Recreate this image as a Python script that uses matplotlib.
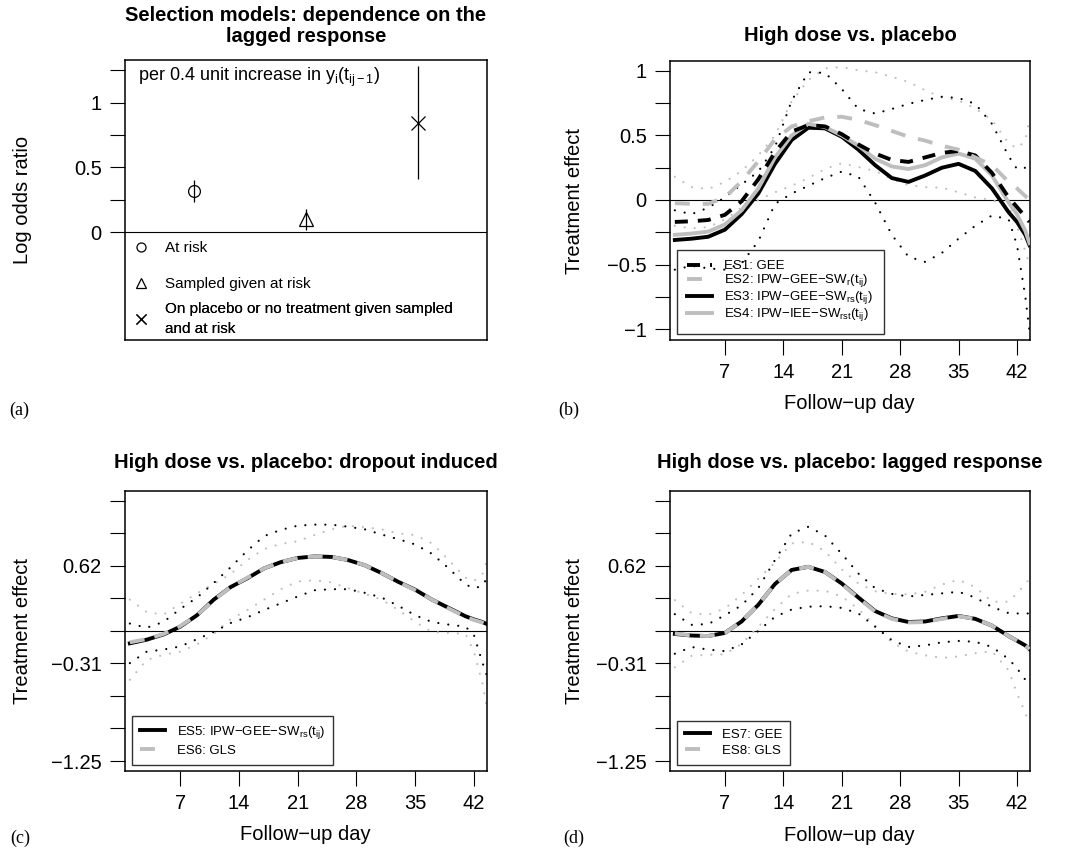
import matplotlib
matplotlib.use("Agg")
import matplotlib.pyplot as plt
from matplotlib.lines import Line2D

plt.rcParams['font.family'] = ['Liberation Sans', 'DejaVu Sans']
plt.rcParams['mathtext.fontset'] = 'custom'
plt.rcParams['mathtext.rm'] = 'Liberation Sans'
plt.rcParams['mathtext.it'] = 'Liberation Sans:italic'
plt.rcParams['mathtext.bf'] = 'Liberation Sans:bold'

# ---- panel (a): selection models
groups = [1, 2, 3]
log_or = [0.317, 0.10, 0.84]
log_or_lo = [0.23, 0.015, 0.41]
log_or_hi = [0.40, 0.18, 1.28]
group_labels = ["At risk", "Sampled given at risk",
                "On placebo or no treatment given sampled\nand at risk"]
group_markers = ["o", "^", "x"]

# ---- follow-up days shared by panels (b)-(d)
days = [1, 3, 5, 7, 9, 11, 13, 15, 17, 19, 21, 23, 25, 27, 29, 31, 33, 35, 37, 39, 41, 42, 43, 43.5]
day_ticks = [7, 14, 21, 28, 35, 42]

# panel (b): high dose vs placebo
es1 = [-0.17, -0.165, -0.155, -0.115, -0.01, 0.16, 0.37, 0.53, 0.58, 0.57, 0.51, 0.43, 0.36, 0.31,
       0.295, 0.33, 0.365, 0.38, 0.345, 0.21, 0.02, -0.055, -0.13, -0.17]
es1_hi = [-0.08, -0.11, -0.06, 0.02, 0.12, 0.22, 0.41, 0.77, 0.99, 0.985, 0.86, 0.705, 0.67, 0.705,
          0.745, 0.775, 0.80, 0.79, 0.745, 0.59, 0.34, 0.24, 0.25, 0.31]
es1_lo = [-0.54, -0.51, -0.53, -0.54, -0.49, -0.32, -0.03, 0.05, 0.11, 0.17, 0.22, 0.18, -0.02, -0.27,
          -0.44, -0.48, -0.41, -0.30, -0.20, -0.12, -0.15, -0.35, -0.75, -1.02]
es2 = [-0.025, -0.03, -0.03, 0.02, 0.145, 0.30, 0.47, 0.57, 0.61, 0.64, 0.645, 0.62, 0.58, 0.535,
       0.49, 0.46, 0.42, 0.39, 0.33, 0.27, 0.14, 0.09, 0.03, 0.0]
es2_hi = [0.18, 0.10, 0.085, 0.14, 0.225, 0.345, 0.50, 0.765, 0.93, 1.02, 1.03, 1.005, 0.99, 0.955,
          0.915, 0.85, 0.795, 0.77, 0.71, 0.62, 0.44, 0.40, 0.46, 0.63]
es2_lo = [-0.2, -0.22, -0.21, -0.15, -0.06, 0.0, 0.06, 0.11, 0.17, 0.24, 0.285, 0.255, 0.225, 0.16,
          0.115, 0.10, 0.095, 0.06, 0.02, 0.0, -0.05, -0.2, -0.4, -0.5]
es3 = [-0.31, -0.30, -0.285, -0.23, -0.11, 0.05, 0.28, 0.465, 0.56, 0.555, 0.49, 0.39, 0.27, 0.17,
       0.14, 0.19, 0.25, 0.28, 0.225, 0.09, -0.095, -0.17, -0.27, -0.35]
es4 = [-0.27, -0.26, -0.245, -0.19, -0.08, 0.09, 0.33, 0.50, 0.59, 0.565, 0.50, 0.42, 0.32, 0.26,
       0.24, 0.27, 0.33, 0.36, 0.32, 0.19, -0.02, -0.11, -0.24, -0.335]

# panel (c): dropout induced
es5 = [-0.12, -0.085, -0.035, 0.04, 0.15, 0.30, 0.42, 0.505, 0.60, 0.66, 0.70, 0.715, 0.71, 0.68,
       0.63, 0.555, 0.47, 0.395, 0.30, 0.22, 0.14, 0.11, 0.085, 0.067]
es5_hi = [0.07, 0.03, 0.085, 0.21, 0.32, 0.46, 0.61, 0.77, 0.91, 0.97, 1.01, 1.02, 1.02, 1.0,
          0.975, 0.925, 0.88, 0.83, 0.74, 0.60, 0.445, 0.41, 0.43, 0.5]
es5_lo = [-0.31, -0.20, -0.18, -0.15, -0.08, -0.01, 0.075, 0.13, 0.20, 0.265, 0.33, 0.39, 0.40, 0.40,
          0.365, 0.32, 0.24, 0.15, 0.085, 0.06, 0.04, -0.04, -0.3, -0.42]
es6 = [-0.11, -0.08, -0.03, 0.045, 0.15, 0.295, 0.42, 0.51, 0.60, 0.66, 0.70, 0.715, 0.71, 0.68,
       0.63, 0.555, 0.47, 0.39, 0.30, 0.215, 0.135, 0.105, 0.08, 0.065]
es6_hi = [0.30, 0.18, 0.155, 0.26, 0.36, 0.45, 0.545, 0.68, 0.785, 0.835, 0.86, 0.92, 0.975, 1.01,
          0.995, 0.975, 0.935, 0.92, 0.84, 0.68, 0.51, 0.48, 0.54, 0.66]
es6_lo = [-0.47, -0.28, -0.23, -0.20, -0.13, -0.03, 0.11, 0.20, 0.30, 0.40, 0.475, 0.485, 0.465, 0.41,
          0.355, 0.30, 0.20, 0.085, -0.01, -0.02, -0.03, -0.2, -0.5, -0.72]

# panel (d): lagged response
es7 = [-0.03, -0.045, -0.05, -0.02, 0.09, 0.25, 0.45, 0.585, 0.615, 0.565, 0.455, 0.32, 0.19, 0.12,
       0.085, 0.09, 0.12, 0.143, 0.115, 0.05, -0.05, -0.095, -0.14, -0.176]
es7_hi = [0.16, 0.058, 0.065, 0.15, 0.245, 0.41, 0.68, 0.935, 1.0, 0.915, 0.74, 0.55, 0.41, 0.355,
          0.33, 0.345, 0.36, 0.375, 0.32, 0.23, 0.17, 0.167, 0.167, 0.167]
es7_lo = [-0.22, -0.155, -0.18, -0.195, -0.13, 0.0, 0.135, 0.205, 0.232, 0.237, 0.22, 0.167, 0.04, -0.09,
          -0.155, -0.14, -0.11, -0.097, -0.105, -0.155, -0.27, -0.36, -0.47, -0.52]
es8 = [-0.025, -0.045, -0.05, -0.02, 0.09, 0.25, 0.45, 0.585, 0.615, 0.565, 0.45, 0.315, 0.185, 0.115,
       0.08, 0.085, 0.115, 0.14, 0.115, 0.05, -0.05, -0.095, -0.14, -0.176]
es8_hi = [0.295, 0.17, 0.155, 0.215, 0.345, 0.50, 0.655, 0.84, 0.855, 0.765, 0.59, 0.455, 0.38, 0.355,
          0.35, 0.375, 0.445, 0.49, 0.42, 0.28, 0.28, 0.36, 0.45, 0.5]
es8_lo = [-0.35, -0.24, -0.23, -0.225, -0.125, 0.038, 0.21, 0.355, 0.387, 0.385, 0.33, 0.21, 0.05, -0.11,
          -0.2, -0.235, -0.26, -0.245, -0.215, -0.195, -0.38, -0.6, -0.79, -0.9]

te_ticks_b = [-1, -0.75, -0.5, -0.25, 0, 0.25, 0.5, 0.75, 1]
te_labels_b = ["\u22121", "", "\u22120.5", "", "0", "", "0.5", "", "1"]
te_ticks_cd = [-1.25, -0.9375, -0.625, -0.3125, 0, 0.3125, 0.625, 0.9375, 1.25]
te_labels_cd = ["\u22121.25", "", "", "\u22120.31", "", "", "0.62", "", ""]

GREY = '#bebebe'
W, H = 1073, 851
FS = 14.5
fig = plt.figure(figsize=(W / 100, H / 100), dpi=100)


def px_axes(left, top, right, bottom):
    return fig.add_axes([left / W, 1 - bottom / H, (right - left) / W, (bottom - top) / H])


def style(ax):
    for s in ax.spines.values():
        s.set_linewidth(1.1)
    ax.tick_params(direction='out', length=10.8, width=0.8, labelsize=FS, pad=6)
    ax.axhline(0, color='black', lw=0.8, zorder=1)


def dotted(ax, y, color):
    ax.plot(days, y, color=color, lw=1.6, linestyle=(0, (0.01, 4.5)), dash_capstyle='round', zorder=2)


def labels(ax, title, ylabel, yx, title_y=1.09, xlabel=True):
    ax.set_title(title, fontsize=FS, fontweight='bold', y=title_y, va='center', pad=0, linespacing=1.15)
    ax.set_ylabel(ylabel, fontsize=FS, va='center')
    ax.yaxis.set_label_coords(yx, 0.5)
    if xlabel:
        ax.set_xlabel("Follow\u2212up day", fontsize=FS, va='center')
        ax.xaxis.set_label_coords(0.5, -0.229)


def days_axis(ax, ticks, tlabels):
    ax.set_xlim(0.42, 43.56)
    ax.set_xticks(day_ticks)
    ax.set_xticklabels([str(d) for d in day_ticks])
    ax.set_yticks(ticks)
    ax.set_yticklabels(tlabels)


def es_legend(ax, handles, texts, pad, spacing):
    leg = ax.legend(handles, texts, loc='lower left', bbox_to_anchor=(0.019, 0.0215), fontsize=9.5,
                    fancybox=False, edgecolor='black', handlelength=1.9, handletextpad=0.9,
                    borderpad=pad, labelspacing=spacing, borderaxespad=0)
    leg.get_frame().set_facecolor('none')
    leg.get_frame().set_linewidth(1.0)


# ---------------- (a)
ax = px_axes(125, 60, 487, 340)
style(ax)
ax.set_xlim(0.384, 3.616)
ax.set_ylim(-0.835, 1.33)
ax.set_xticks([])
ax.set_yticks([0, 0.25, 0.5, 0.75, 1, 1.25])
ax.set_yticklabels(["0", "", "0.5", "", "1", ""])
ax.vlines(groups, log_or_lo, log_or_hi, color='black', lw=0.9)
sizes = [8.5, 10.5, 9.5]
for g, v, m, s in zip(groups, log_or, group_markers, sizes):
    ax.plot([g], [v], marker=m, ms=s, mfc='none', mec='black', mew=0.9, ls='none')
ax.text(0.036, 0.939, "per 0.4 unit increase in y$_\\mathregular{i}$(t$_\\mathregular{ij-1}$)",
        transform=ax.transAxes, fontsize=13, va='center', ha='left')
labels(ax, "Selection models: dependence on the\nlagged response", "Log odds ratio", -0.2845,
       title_y=1.122, xlabel=False)
rows = [0.3286, 0.20, 0.075]
for lab, m, r in zip(group_labels, group_markers, rows):
    h = Line2D([], [], marker=m, ls='none', ms=6.5, mfc='none', mec='black', mew=0.9)
    leg = ax.legend([h], [lab], loc='center left', bbox_to_anchor=(0.0188, r), frameon=False,
                    fontsize=11, handlelength=1.2, handletextpad=0.975, borderpad=0, borderaxespad=0)
    for t in leg.get_texts():
        t.set_linespacing(1.6)
    ax.add_artist(leg)

# ---------------- (b)
ax = px_axes(670, 61, 1030, 340)
style(ax)
days_axis(ax, te_ticks_b, te_labels_b)
ax.set_ylim(-1.085, 1.077)
dotted(ax, es2_hi, GREY)
dotted(ax, es2_lo, GREY)
dotted(ax, es1_hi, 'black')
dotted(ax, es1_lo, 'black')
l3, = ax.plot(days, es3, color='black', lw=2.8, zorder=3)
l4, = ax.plot(days, es4, color=GREY, lw=2.8, zorder=3)
l1, = ax.plot(days, es1, color='black', lw=2.8, ls=(0, (3.35, 2.57)), zorder=4)
l2, = ax.plot(days, es2, color=GREY, lw=2.8, ls=(0, (3.85, 3.35)), zorder=4)
es_legend(ax, [l1, l2, l3, l4],
          ["ES1: GEE",
           "ES2: IPW\u2212GEE\u2212SW$_\\mathregular{r}$(t$_\\mathregular{ij}$)",
           "ES3: IPW\u2212GEE\u2212SW$_\\mathregular{rs}$(t$_\\mathregular{ij}$)",
           "ES4: IPW\u2212IEE\u2212SW$_\\mathregular{rst}$(t$_\\mathregular{ij}$)"], 0.8, 0.0)
labels(ax, "High dose vs. placebo", "Treatment effect", -0.264)
ax.xaxis.set_label_coords(0.497, -0.229)

# ---------------- (c)
ax = px_axes(125, 491, 487, 771)
style(ax)
days_axis(ax, te_ticks_cd, te_labels_cd)
ax.set_ylim(-1.346, 1.343)
dotted(ax, es6_hi, GREY)
dotted(ax, es6_lo, GREY)
dotted(ax, es5_hi, 'black')
dotted(ax, es5_lo, 'black')
l5, = ax.plot(days, es5, color='black', lw=2.8, zorder=3)
l6, = ax.plot(days, es6, color=GREY, lw=2.8, ls=(0, (3.85, 2.6)), zorder=4)
es_legend(ax, [l5, l6],
          ["ES5: IPW\u2212GEE\u2212SW$_\\mathregular{rs}$(t$_\\mathregular{ij}$)", "ES6: GLS"], 0.6, 0.3)
labels(ax, "High dose vs. placebo: dropout induced", "Treatment effect", -0.2845, title_y=1.1)
ax.xaxis.set_label_coords(0.497, -0.225)

# ---------------- (d)
ax = px_axes(670, 491, 1030, 771)
style(ax)
days_axis(ax, te_ticks_cd, te_labels_cd)
ax.set_ylim(-1.346, 1.343)
dotted(ax, es8_hi, GREY)
dotted(ax, es8_lo, GREY)
dotted(ax, es7_hi, 'black')
dotted(ax, es7_lo, 'black')
l7, = ax.plot(days, es7, color='black', lw=2.8, zorder=3)
l8, = ax.plot(days, es8, color=GREY, lw=2.8, ls=(0, (3.85, 2.6)), zorder=4)
es_legend(ax, [l7, l8], ["ES7: GEE", "ES8: GLS"], 0.6, 0.3)
labels(ax, "High dose vs. placebo: lagged response", "Treatment effect", -0.264, title_y=1.1)
ax.xaxis.set_label_coords(0.497, -0.229)

# panel letters
for lab, x, y in [("(a)", 9, 410), ("(b)", 558, 410), ("(c)", 10, 838), ("(d)", 563, 838)]:
    fig.text(x / W, 1 - y / H, lab, family='Liberation Serif', fontsize=13, ha='left', va='center')

fig.savefig("out.png", dpi=100)
